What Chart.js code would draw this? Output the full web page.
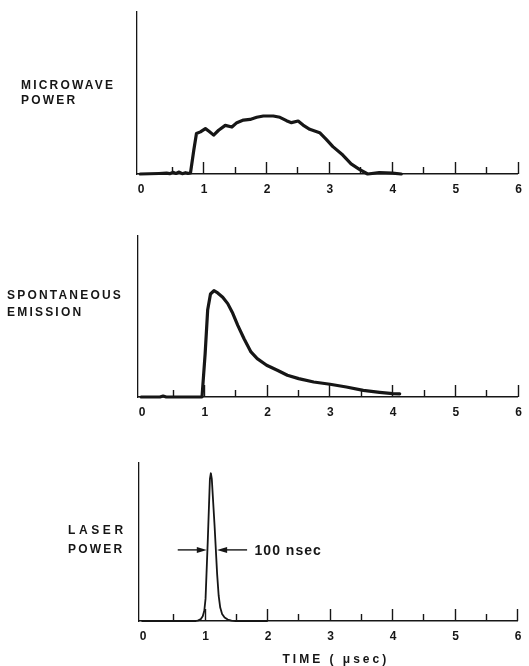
<!DOCTYPE html>
<html>
<head>
<meta charset="utf-8">
<script src="https://cdn.jsdelivr.net/npm/chart.js@4.4.0/dist/chart.umd.min.js"></script>
<style>
  body { margin: 0; background: #fff; }
  .panel { position: absolute; left: 0; }
</style>
</head>
<body>
<canvas id="microwave-canvas" class="panel" width="529" height="200" style="top:0px"></canvas>
<canvas id="emission-canvas" class="panel" width="529" height="220" style="top:200px"></canvas>
<canvas id="laser-canvas" class="panel" width="529" height="246" style="top:420px"></canvas>
<script>
  // Time axis (usec); the vertical axis sits a little left of t = 0
  let x_min = -0.05;
  let x_max = 6;
  let x_ticks = [0, 1, 2, 3, 4, 5, 6];
  let major_marks = [1, 2, 3, 4, 5, 6];
  let minor_marks = [0.5, 1.5, 2.5, 3.5, 4.5, 5.5];

  // Microwave power trace (relative units, 1 = top of axis)
  let microwave_t = [0, 0.3, 0.42, 0.47, 0.52, 0.57, 0.62, 0.67, 0.72, 0.76, 0.8, 0.853, 0.895, 0.958, 1.037,
    1.089, 1.168, 1.247, 1.353, 1.458, 1.537, 1.642, 1.747, 1.853, 1.958, 2.116, 2.221, 2.326, 2.405, 2.511,
    2.589, 2.695, 2.853, 2.958, 3.063, 3.221, 3.353, 3.484, 3.616, 3.8, 4.01, 4.15];
  let microwave_v = [0, 0.003, 0.005, 0.002, 0.01, 0.003, 0.012, 0.002, 0.008, 0.004, 0.006, 0.148, 0.25, 0.26,
    0.28, 0.265, 0.24, 0.27, 0.30, 0.29, 0.317, 0.333, 0.337, 0.35, 0.358, 0.358, 0.35, 0.329, 0.317, 0.327,
    0.302, 0.276, 0.255, 0.214, 0.169, 0.117, 0.062, 0.029, 0, 0.008, 0.005, 0];

  // Spontaneous emission trace
  let emission_t = [0, 0.3, 0.35, 0.4, 0.97, 1.02, 1.06, 1.105, 1.16, 1.22, 1.3, 1.38, 1.46, 1.54, 1.64, 1.75,
    1.85, 2.0, 2.17, 2.33, 2.51, 2.75, 3.01, 3.27, 3.54, 3.8, 4.01, 4.12];
  let emission_v = [0, 0, 0.006, 0, 0, 0.27, 0.54, 0.64, 0.66, 0.646, 0.62, 0.58, 0.52, 0.445, 0.362, 0.28,
    0.238, 0.197, 0.166, 0.135, 0.114, 0.093, 0.079, 0.062, 0.041, 0.029, 0.021, 0.02];

  // Laser power pulse
  let laser_t = [0, 0.5, 0.86, 0.9, 0.94, 0.97, 0.995, 1.015, 1.05, 1.085, 1.1, 1.115, 1.16, 1.2, 1.225, 1.25,
    1.28, 1.32, 1.37, 1.43, 1.5, 2];
  let laser_v = [0, 0, 0, 0.004, 0.012, 0.03, 0.065, 0.14, 0.5, 0.9, 0.935, 0.9, 0.6, 0.3, 0.16, 0.085,
    0.045, 0.022, 0.009, 0.003, 0, 0];

  // Pulse width marker: arrows pointing at the pulse, then the label
  let width_arrow_y = 0.45;
  let width_left_arrow = [0.57, 1.035];
  let width_right_arrow = [1.68, 1.2];
  let width_label_t = 1.8;
  let width_label = "100 nsec";

  let ink = "#161616";
  let font_family = "'Liberation Sans', Arial, sans-serif";

  // Short marks drawn upward from the time axis
  let inner_ticks = {
    id: 'innerTicks',
    afterDraw(chart) {
      let ctx = chart.ctx;
      let xs = chart.scales.x;
      let base = chart.chartArea.bottom;
      ctx.save();
      ctx.strokeStyle = ink;
      ctx.lineWidth = 1.4;
      ctx.beginPath();
      major_marks.forEach(function(m) {
        let px = Math.round(xs.getPixelForValue(m)) + 0.5;
        ctx.moveTo(px, base);
        ctx.lineTo(px, base - 12);
      });
      minor_marks.forEach(function(m) {
        let px = Math.round(xs.getPixelForValue(m)) + 0.5;
        ctx.moveTo(px, base);
        ctx.lineTo(px, base - 7);
      });
      ctx.stroke();
      ctx.restore();
    }
  };

  // Spaced capital labels left of each panel, and the time title
  let side_text = {
    id: 'sideText',
    afterDraw(chart, args, opts) {
      let ctx = chart.ctx;
      ctx.save();
      ctx.fillStyle = ink;
      ctx.textBaseline = 'alphabetic';
      (opts.items || []).forEach(function(it) {
        ctx.font = "bold " + (it.size || 12) + "px " + font_family;
        ctx.letterSpacing = (it.spacing || 0) + "px";
        ctx.textAlign = it.align || 'left';
        let x = it.x;
        if (it.atValue !== undefined) {
          x = chart.scales.x.getPixelForValue(it.atValue);
        }
        ctx.fillText(it.text, x, it.y);
      });
      ctx.restore();
    }
  };

  // Arrows marking the pulse width
  let width_marker = {
    id: 'widthMarker',
    afterDraw(chart, args, opts) {
      if (!opts.show) return;
      let ctx = chart.ctx;
      let xs = chart.scales.x;
      let ys = chart.scales.y;
      let py = ys.getPixelForValue(width_arrow_y);
      let draw_arrow = function(from, to) {
        let x0 = xs.getPixelForValue(from);
        let x1 = xs.getPixelForValue(to);
        let dir = x1 > x0 ? 1 : -1;
        ctx.beginPath();
        ctx.moveTo(x0, py);
        ctx.lineTo(x1 - dir * 6, py);
        ctx.stroke();
        ctx.beginPath();
        ctx.moveTo(x1, py);
        ctx.lineTo(x1 - dir * 10, py - 3);
        ctx.lineTo(x1 - dir * 10, py + 3);
        ctx.closePath();
        ctx.fill();
      };
      ctx.save();
      ctx.strokeStyle = ink;
      ctx.fillStyle = ink;
      ctx.lineWidth = 1.4;
      draw_arrow(width_left_arrow[0], width_left_arrow[1]);
      draw_arrow(width_right_arrow[0], width_right_arrow[1]);
      ctx.font = "bold 14px " + font_family;
      ctx.letterSpacing = "1px";
      ctx.textAlign = 'left';
      ctx.textBaseline = 'middle';
      ctx.fillText(width_label, xs.getPixelForValue(width_label_t), py + 1);
      ctx.restore();
    }
  };

  let make_chart = function(id, t, v, line_width, pad, axis_height, side_items, show_marker) {
    let points = t.map(function(tt, i) { return {x: tt, y: v[i]}; });
    return new Chart(document.getElementById(id), {
      type: 'line',
      data: {
        datasets: [{
          data: points,
          borderColor: ink,
          borderWidth: line_width,
          borderJoinStyle: 'round',
          borderCapStyle: 'round',
          pointRadius: 0,
          fill: false,
          tension: 0,
          clip: 6
        }]
      },
      plugins: [inner_ticks, side_text, width_marker],
      options: {
        responsive: false,
        animation: false,
        devicePixelRatio: 1,
        layout: {
          autoPadding: false,
          padding: pad
        },
        plugins: {
          legend: {display: false},
          tooltip: {enabled: false},
          sideText: {items: side_items},
          widthMarker: {show: show_marker}
        },
        scales: {
          x: {
            type: 'linear',
            min: x_min,
            max: x_max,
            afterBuildTicks: function(s) { s.ticks = x_ticks.map(function(val) { return {value: val}; }); },
            afterFit: function(s) { s.height = axis_height; },
            grid: {display: false, drawTicks: false},
            border: {display: true, color: ink, width: 1.6},
            ticks: {
              color: ink,
              padding: 8,
              labelOffset: 1,
              maxRotation: 0,
              font: {family: font_family, size: 12, weight: 'bold'}
            }
          },
          y: {
            min: 0,
            max: 1,
            afterFit: function(s) { s.width = 0; },
            grid: {display: false, drawTicks: false},
            border: {display: true, color: ink, width: 1.3},
            ticks: {display: false}
          }
        }
      }
    });
  };

  make_chart('microwave-canvas', microwave_t, microwave_v, 3.2,
    {left: 137, right: 11, top: 12, bottom: 0}, 26,
    [{text: 'MICROWAVE', x: 21, y: 89, spacing: 2.2},
     {text: 'POWER', x: 21, y: 104, spacing: 2.2}], false);

  make_chart('emission-canvas', emission_t, emission_v, 3.2,
    {left: 138, right: 11, top: 36, bottom: 0}, 23,
    [{text: 'SPONTANEOUS', x: 7, y: 99, spacing: 2.2},
     {text: 'EMISSION', x: 7, y: 116, spacing: 2.2}], false);

  make_chart('laser-canvas', laser_t, laser_v, 1.8,
    {left: 139, right: 12, top: 43, bottom: 0}, 45,
    [{text: 'LASER', x: 68, y: 114, spacing: 3.6},
     {text: 'POWER', x: 68, y: 133, spacing: 2.2},
     {text: 'TIME ( \u03bcsec)', atValue: 3.1, y: 243, spacing: 3, align: 'center'}], true);
</script>
</body>
</html>
